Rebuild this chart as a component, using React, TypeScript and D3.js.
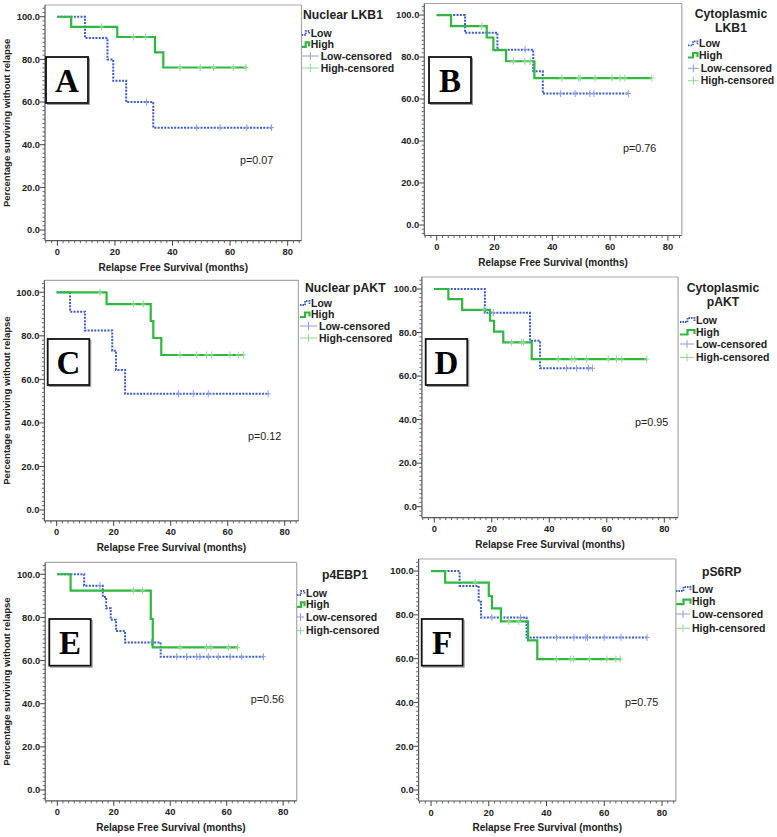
import React from "react";
import * as d3 from "d3";

type Step = [number, number];

// A - Nuclear LKB1
const nucLkb1Low: Step[] = [[0, 100], [9.6, 90], [17.4, 80], [19.4, 70], [23.9, 60], [33.3, 48], [74.4, 48]];
const nucLkb1LowCens = [31, 48.4, 56.5, 65.8, 74.4];
const nucLkb1High: Step[] = [[0, 100], [4.8, 95.2], [20.8, 90.5], [33.9, 83.3], [36.8, 76.2], [65.8, 76.2]];
const nucLkb1HighCens = [15.4, 26.4, 30.7, 42.6, 49.6, 54.2, 61.1, 65.5];

// B - Cytoplasmic LKB1
const cytLkb1Low: Step[] = [[0, 100], [9.8, 91.6], [21, 83.5], [33.4, 73.2], [36.7, 62.6], [66.3, 62.6]];
const cytLkb1LowCens = [17.3, 30.6, 42.9, 47.9, 53, 54.4, 66.3];
const cytLkb1High: Step[] = [[0, 100], [4.95, 94.7], [17.3, 89.3], [19.6, 83.3], [24, 78], [33.8, 70], [74.4, 70]];
const cytLkb1HighCens = [15.6, 26.5, 30.5, 32.3, 43.3, 49, 49.6, 54.8, 60.6, 63.4, 65.1, 74.4];

// C - Nuclear pAKT
const nucPaktLow: Step[] = [[0, 100], [4.7, 91.1], [9.9, 82.4], [19.5, 73.2], [20.8, 64.3], [24, 53.4], [74.2, 53.4]];
const nucPaktLowCens = [42.7, 47.9, 53.2, 74.2];
const nucPaktHigh: Step[] = [[0, 100], [17.5, 94.6], [33, 86.8], [33.9, 79], [36.7, 71.2], [65.5, 71.2]];
const nucPaktHighCens = [15.2, 26.9, 30.4, 43.3, 49.1, 52.6, 54.4, 60.8, 63.7, 65.5];

// D - Cytoplasmic pAKT
const cytPaktLow: Step[] = [[0, 100], [17.6, 89.1], [33.3, 76.2], [36.8, 63.6], [55, 63.6]];
const cytPaktLowCens = [20.5, 46, 49.5, 53.6, 55];
const cytPaktHigh: Step[] = [[0, 100], [4.9, 95.3], [9.7, 90.4], [19.4, 85.4], [20.8, 80.4], [24, 75.5], [33.9, 67.8], [73.9, 67.8]];
const cytPaktHighCens = [17.3, 26.9, 30.4, 31, 43.1, 47.8, 48.9, 53, 60.5, 63.4, 65.2, 73.9];

// E - p4EBP1
const p4ebp1Low: Step[] = [[0, 100], [9.5, 94.7], [16.1, 89.5], [17.3, 84.2], [18.9, 78.9], [20.8, 73.7], [24, 68.4], [36.6, 61.8], [73, 61.8]];
const p4ebp1LowCens = [15.1, 33.4, 42.3, 45.8, 49.4, 50.5, 53.5, 57, 61.2, 65.3, 73];
const p4ebp1High: Step[] = [[0, 100], [4.7, 92.4], [33.1, 79.3], [33.8, 66.1], [63.9, 66.1]];
const p4ebp1HighCens = [26.9, 30.2, 43.5, 52.9, 54.4, 60.6, 63.9];

// F - pS6RP
const ps6rpLow: Step[] = [[0, 100], [9.9, 93.2], [16.5, 86], [17.3, 78.8], [33.1, 69.7], [74.8, 69.7]];
const ps6rpLowCens = [21.1, 31, 43.4, 49.5, 53.6, 54.2, 60, 65.8, 74.8];
const ps6rpHigh: Step[] = [[0, 100], [4.9, 94.7], [20, 88.6], [21.1, 83], [24.2, 77], [33.6, 68.3], [36.8, 59.8], [65.8, 59.8]];
const ps6rpHighCens = [15.3, 26.9, 30.4, 43.4, 48.4, 49.3, 54.8, 60.9, 64, 65.5];

const letters = ["A", "B", "C", "D", "E", "F"];
const titles = [["Nuclear LKB1"], ["Cytoplasmic", "LKB1"], ["Nuclear pAKT"], ["Cytoplasmic", "pAKT"], ["p4EBP1"], ["pS6RP"]];
const pValues = ["p=0.07", "p=0.76", "p=0.12", "p=0.95", "p=0.56", "p=0.75"];
const legendLabels = ["Low", "High", "Low-censored", "High-censored"];
const xTicks = [0, 20, 40, 60, 80];
const yTicks = [0, 20, 40, 60, 80, 100];

const FONT = "'Liberation Sans', Arial, sans-serif";
const SERIF = "'Liberation Serif', 'Times New Roman', serif";
const GREEN = "#2fb83f";
const BLUE = "#3a5ccc";
const GREEN_L = "#8fd890";
const BLUE_L = "#8c9ee0";
const TXT = "#222";

interface Layout {
  box: [number, number, number, number];
  letterBox: [number, number, number, number];
  pPos: [number, number];
  titleX: number;
  titleAnchor: "start" | "middle";
  titleY: number;
  itemY: number[];
  symX: number;
  symW: number;
  textX: number;
  censTextX: number;
  yTitle: boolean;
}

const layouts: Layout[] = [
  { box: [45, 5, 301.5, 240.7], letterBox: [46, 57, 42, 46], pPos: [240, 164], titleX: 303, titleAnchor: "start", titleY: 19, itemY: [33, 44.3, 56, 68], symX: 302, symW: 8, textX: 310.7, censTextX: 320.7, yTitle: true },
  { box: [424.3, 3.5, 681.8, 235.5], letterBox: [429, 57, 42, 46], pPos: [623, 152], titleX: 731, titleAnchor: "middle", titleY: 18, itemY: [43.3, 55, 68.3, 80.7], symX: 688, symW: 10, textX: 699, censTextX: 700.7, yTitle: false },
  { box: [44.4, 280.3, 298.4, 520.9], letterBox: [47.7, 339, 41.6, 46], pPos: [248, 439.7], titleX: 305, titleAnchor: "start", titleY: 292, itemY: [303, 314.5, 326, 338], symX: 300, symW: 10, textX: 311, censTextX: 319, yTitle: true },
  { box: [421.9, 277, 678.1, 517.6], letterBox: [425.7, 339, 41.6, 46], pPos: [635, 425.7], titleX: 723, titleAnchor: "middle", titleY: 292, itemY: [320, 332, 344, 357.5], symX: 680, symW: 15, textX: 696, censTextX: 696, yTitle: false },
  { box: [45.2, 562.4, 296.7, 800.8], letterBox: [49.3, 619, 41.4, 46.7], pPos: [250.7, 703], titleX: 345, titleAnchor: "middle", titleY: 579, itemY: [593, 604.3, 617, 630.7], symX: 297, symW: 8, textX: 306, censTextX: 306, yTitle: true },
  { box: [418.6, 559, 675.9, 801], letterBox: [421.7, 619, 41, 46.7], pPos: [625, 706], titleX: 721.7, titleAnchor: "middle", titleY: 575.7, itemY: [589, 601.7, 614, 628.3], symX: 676, symW: 15, textX: 692, censTextX: 692, yTitle: false },
];

const curves: [Step[], number[], Step[], number[]][] = [
  [nucLkb1Low, nucLkb1LowCens, nucLkb1High, nucLkb1HighCens],
  [cytLkb1Low, cytLkb1LowCens, cytLkb1High, cytLkb1HighCens],
  [nucPaktLow, nucPaktLowCens, nucPaktHigh, nucPaktHighCens],
  [cytPaktLow, cytPaktLowCens, cytPaktHigh, cytPaktHighCens],
  [p4ebp1Low, p4ebp1LowCens, p4ebp1High, p4ebp1HighCens],
  [ps6rpLow, ps6rpLowCens, ps6rpHigh, ps6rpHighCens],
];

const survAt = (steps: Step[], t: number) => {
  let s = steps[0][1];
  for (const st of steps) if (st[0] <= t + 1e-6) s = st[1];
  return s;
};

const Panel: React.FC<{ i: number }> = ({ i }) => {
  const L = layouts[i];
  const [low, lowCens, high, highCens] = curves[i];
  const [l, t, r, b] = L.box;
  const x = d3.scaleLinear().domain([-4.3, 84.8]).range([l, r]);
  const y = d3.scaleLinear().domain([-5, 105.5]).range([b, t]);
  const line = d3
    .line<Step>()
    .x((d) => x(d[0]))
    .y((d) => y(d[1]))
    .curve(d3.curveStepAfter);

  const xMinor = d3.range(-4, 85, 2).filter((v) => v % 20 !== 0);
  const yMinor = d3.range(-4, 106, 2).filter((v) => v % 20 !== 0);

  const [bx, by, bw, bh] = L.letterBox;

  const cens = (steps: Step[], ts: number[], color: string) =>
    ts.map((c, k) => {
      const yy = y(survAt(steps, c));
      return (
        <g key={k} stroke={color} strokeWidth={1}>
          <line x1={x(c)} x2={x(c)} y1={yy - 3.5} y2={yy + 3.5} />
          <line x1={x(c) - 2.5} x2={x(c) + 2.5} y1={yy} y2={yy} />
        </g>
      );
    });

  const iy = L.itemY;
  const sx = L.symX;
  const sw = L.symW;

  return (
    <g>
      {/* frame */}
      <line x1={l} x2={r} y1={t} y2={t} stroke="#a8a8a8" strokeWidth={1.2} />
      <line x1={r} x2={r} y1={t} y2={b} stroke="#a8a8a8" strokeWidth={1.2} />
      <line x1={l} x2={l} y1={t} y2={b} stroke="#555" strokeWidth={1.2} />
      <line x1={l} x2={r} y1={b} y2={b} stroke="#555" strokeWidth={1.2} />

      {/* y axis */}
      {yMinor.map((v) => (
        <line key={"ym" + v} x1={l - 2.5} x2={l} y1={y(v)} y2={y(v)} stroke="#666" />
      ))}
      {yTicks.map((v) => (
        <g key={"y" + v}>
          <line x1={l - 5} x2={l} y1={y(v)} y2={y(v)} stroke="#444" />
          <text x={l - 5} y={y(v) + 3.3} textAnchor="end" fontSize={9.3} fontWeight="bold" fill={TXT} fontFamily={FONT}>
            {d3.format(".1f")(v)}
          </text>
        </g>
      ))}

      {/* x axis */}
      {xMinor.map((v) => (
        <line key={"xm" + v} x1={x(v)} x2={x(v)} y1={b} y2={b + 2.5} stroke="#666" />
      ))}
      {xTicks.map((v) => (
        <g key={"x" + v}>
          <line x1={x(v)} x2={x(v)} y1={b} y2={b + 5} stroke="#444" />
          <text x={x(v)} y={b + 14.5} textAnchor="middle" fontSize={9.3} fontWeight="bold" fill={TXT} fontFamily={FONT}>
            {v}
          </text>
        </g>
      ))}
      <text x={(l + r) / 2} y={b + 30} textAnchor="middle" fontSize={10} fontWeight="bold" fill={TXT} fontFamily={FONT}>
        Relapse Free Survival (months)
      </text>
      {L.yTitle && (
        <text
          transform={`translate(9.5,${(t + b) / 2}) rotate(-90)`}
          textAnchor="middle"
          fontSize={9.5}
          fontWeight="bold"
          fill={TXT}
          fontFamily={FONT}
        >
          Percentage surviving without relapse
        </text>
      )}

      {/* curves */}
      <path d={line(low) || ""} fill="none" stroke={BLUE} strokeWidth={2} strokeDasharray="2,1.3" />
      {cens(low, lowCens, BLUE_L)}
      <path d={line(high) || ""} fill="none" stroke={GREEN} strokeWidth={2.2} />
      {cens(high, highCens, GREEN_L)}

      {/* letter box */}
      <rect x={bx + 1.5} y={by + 1.5} width={bw} height={bh} fill="none" stroke="#999" strokeWidth={1} />
      <rect x={bx} y={by} width={bw} height={bh} fill="#fff" stroke="#111" strokeWidth={1.8} />
      <text x={bx + bw / 2} y={by + bh / 2 + 11.5} textAnchor="middle" fontSize={33} fontWeight="bold" fill="#000" fontFamily={SERIF}>
        {letters[i]}
      </text>

      {/* p value */}
      <text x={L.pPos[0]} y={L.pPos[1]} fontSize={10.8} fill={TXT} fontFamily={FONT}>
        {pValues[i]}
      </text>

      {/* legend */}
      {titles[i].map((s, k) => (
        <text key={s} x={L.titleX} y={L.titleY + k * 13.5} textAnchor={L.titleAnchor} fontSize={12.2} fontWeight="bold" fill={TXT} fontFamily={FONT}>
          {s}
        </text>
      ))}
      <path
        d={`M${L.textX - sw - 1},${iy[0] + 2} H${L.textX - sw / 2 - 1} V${iy[0] - 2} H${L.textX - 1.5} V${iy[0] + 1}`}
        fill="none"
        stroke={BLUE}
        strokeWidth={1.8}
        strokeDasharray="1.5,1"
      />
      <path
        d={`M${L.textX - sw - 1},${iy[1] + 2.5} H${L.textX - sw / 2 - 1} V${iy[1] - 2} H${L.textX - 1.5} V${iy[1] + 2}`}
        fill="none"
        stroke={GREEN}
        strokeWidth={2.2}
      />
      {[BLUE_L, GREEN_L].map((c, k) => {
        const yy = iy[2 + k];
        const x1 = sx;
        const x2 = L.censTextX - 2;
        const xm = (x1 + x2) / 2;
        return (
          <g key={c} stroke={c} strokeWidth={1}>
            <line x1={x1} x2={x2} y1={yy} y2={yy} />
            <line x1={xm} x2={xm} y1={yy - 4} y2={yy + 4} />
          </g>
        );
      })}
      {legendLabels.map((s, k) => (
        <text
          key={s}
          x={k < 2 ? L.textX : L.censTextX}
          y={iy[k] + 3.7}
          fontSize={10.5}
          fontWeight="bold"
          fill={TXT}
          fontFamily={FONT}
        >
          {s}
        </text>
      ))}
    </g>
  );
};

export default function App() {
  return (
    <svg width={777} height={837} style={{ position: "absolute", left: 0, top: 0, background: "#fff" }}>
      <rect width={777} height={837} fill="#fff" />
      {layouts.map((_, i) => (
        <Panel key={i} i={i} />
      ))}
    </svg>
  );
}
